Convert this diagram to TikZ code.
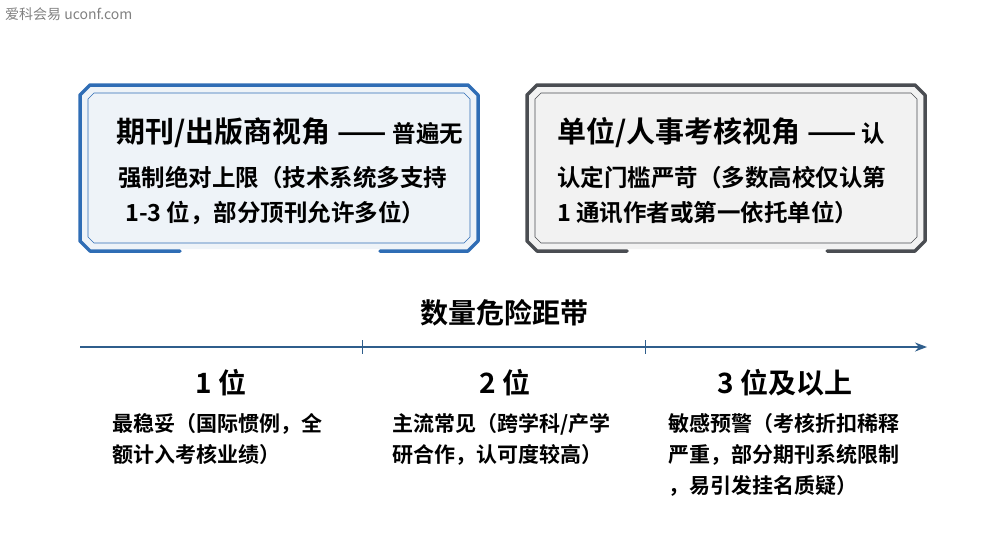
\documentclass[tikz,border=0pt]{standalone}
\usepackage{fontspec}
\setmainfont{Noto Sans CJK SC}
\newfontfamily\cjkb{Noto Sans CJK SC Bold}
\usetikzlibrary{arrows.meta}
\definecolor{bl}{HTML}{2F6DB5}
\definecolor{blf}{HTML}{EEF3F8}
\definecolor{dg}{HTML}{4A4D52}
\definecolor{gf}{HTML}{F2F2F2}
\definecolor{ln}{HTML}{2F5E8C}
\begin{document}
\begin{tikzpicture}[x=1pt,y=-1pt,
  txt/.style={anchor=west,font=\cjkb\fontsize{23.5}{26}\selectfont,inner sep=0},
  ttl/.style={anchor=west,font=\cjkb\fontsize{29}{32}\selectfont,inner sep=0},
  lvl/.style={font=\cjkb\fontsize{28}{32}\selectfont,inner sep=0},
  dsc/.style={font=\cjkb\fontsize{21}{31}\selectfont,align=left,inner sep=0,anchor=north west}]
\useasboundingbox (0,0) rectangle (987,536);
\node[anchor=west,gray,font=\fontsize{14}{15}\selectfont,inner sep=0] (wm) at (5,14) {爱科会易 uconf.com};
% boxes
\foreach \x/\c/\f in {80/bl/blf,527/dg/gf}{
  \fill[\f] (\x+10,87) -- (\x+388,87) -- (\x+396,95) -- (\x+396,241) -- (\x+388,249) -- (\x+10,249) -- (\x+2,241) -- (\x+2,95) -- cycle;
  \draw[\c,line width=3.5pt,line cap=round,line join=round] (\x+100,251) -- (\x+10,251) -- (\x,241) -- (\x,95) -- (\x+10,85) -- (\x+388,85) -- (\x+398,95) -- (\x+398,241) -- (\x+388,251) -- (\x+300,251);
  \draw[\c,line width=0.6pt] (\x+14,93) -- (\x+384,93) -- (\x+390,99) -- (\x+390,237) -- (\x+384,243) -- (\x+14,243) -- (\x+8,237) -- (\x+8,99) -- cycle;
}
\node[ttl] (l1) at (116,133) {期刊/出版商视角 —— \fontsize{23.5}{26}\selectfont 普遍无};
\node[txt] (l2) at (118,178) {强制绝对上限（技术系统多支持};
\node[txt] (l3) at (125,213) {1-3 位，部分顶刊允许多位）};
\node[ttl] (r1) at (557,133) {单位/人事考核视角 ——\fontsize{23.5}{26}\selectfont\ 认};
\node[txt] (r2) at (557,178) {认定门槛严苛（多数高校仅认第};
\node[txt] (r3) at (557,213) {1 通讯作者或第一依托单位）};
% timeline
\node[font=\cjkb\fontsize{28}{32}\selectfont] (t) at (504,313) {数量危险距带};
\coordinate (a) at (80,347); \coordinate (b) at (927,347);
\draw[ln,line width=1.3pt,-{Stealth[length=12pt,width=9pt]}] (a) -- (b);
\draw[ln,line width=1pt] (362,340) -- (362,354) (645,340) -- (645,354);
\node[lvl] (p1) at (221,383) {1 位};
\node[lvl] (p2) at (505,383) {2 位};
\node[lvl] (p3) at (785,383) {3 位及以上};
\node[dsc] (d1) at (112,413) {最稳妥（国际惯例，全\\额计入考核业绩）};
\node[dsc] (d2) at (392,413) {主流常见（跨学科/产学\\研合作，认可度较高）};
\node[dsc] (d3) at (668,413) {敏感预警（考核折扣稀释\\严重，部分期刊系统限制\\，易引发挂名质疑）};
\end{tikzpicture}
\end{document}
